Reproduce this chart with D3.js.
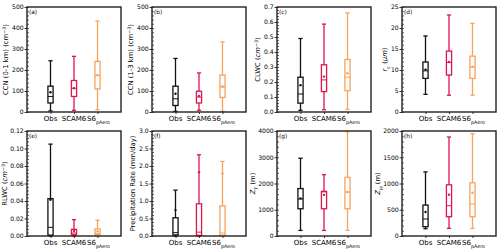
<!DOCTYPE html>
<html><head><meta charset="utf-8">
<script src="https://cdn.jsdelivr.net/npm/d3@7"></script>
<style>body{margin:0;background:#fff}svg{display:block}</style>
</head><body>
<svg id="c" width="500" height="249"></svg>
<script>
const categories = ["Obs", "SCAM6", "S6pAero"];
const colors = ["#111111", "#e0154e", "#f7a35c"];
// each: [lowWhisker, q1, median, q3, highWhisker, mean] for Obs, SCAM6, S6pAero
const ccnLow   = [[5,43,74,123,244,94],[8,74,113,150,265,113],[11,110,173,241,433,176]];
const ccnHigh  = [[3,31,63,123,255,87],[8,43,71,99,186,76],[3,69,118,176,334,123]];
const clwc     = [[0.011,0.059,0.12,0.232,0.49,0.179],[0.015,0.136,0.214,0.315,0.586,0.236],[0.017,0.142,0.232,0.35,0.66,0.258]];
const rc       = [[4.2,8.0,9.8,11.9,18.1,10.1],[4.0,8.8,11.8,14.5,23.1,11.9],[4.0,8.0,10.7,13.3,21.1,10.8]];
const rlwc     = [[0,0.001,0.0099,0.0427,0.105,0.0415],[0,0.0015,0.0034,0.0076,0.0187,0.0057],[0,0.0015,0.003,0.008,0.018,0.0053]];
const precip   = [[0,0.03,0.095,0.52,1.31,0.74],[0,0.02,0.11,0.92,2.32,1.82],[0,0.02,0.085,0.86,2.13,1.79]];
const zTop     = [[213,1037,1409,1807,2963,1435],[213,1037,1680,1701,2339,1568],[213,1037,1674,2233,3973,1674]];
const zHeight  = [[139,177,323,589,1221,456],[146,367,576,975,1886,785],[146,367,608,1013,1949,823]];
const yMax     = [500, 500, 0.7, 25, 0.12, 3.0, 4000, 2000];
const yStep    = [100, 100, 0.1, 5, 0.02, 0.5, 1000, 500];
const tickFmt  = ["d","d",".1f","d",".2f",".1f","d","d"];
const letters  = ["(a)","(b)","(c)","(d)","(e)","(f)","(g)","(h)"];
const panelData = [ccnLow, ccnHigh, clwc, rc, rlwc, precip, zTop, zHeight];

const svg = d3.select("#c");
const lefts = [27,152,277,402], tops = [7,131];
const W = 94, H = 105;
const font = "DejaVu Sans";

function yTitle(g, i, off){
  const t = g.append("text").attr("transform",`translate(${off},${H/2}) rotate(-90)`)
    .attr("text-anchor","middle").attr("font-family",font).attr("font-size",6.8).attr("fill","#000");
  const sup = (txt)=>t.append("tspan").attr("baseline-shift","super").attr("font-size",4.8).text(txt);
  const sub = (txt)=>t.append("tspan").attr("baseline-shift","sub").attr("font-size",4.8).text(txt);
  if(i===0){ t.append("tspan").text("CCN (0-1 km) (cm"); sup("−3"); t.append("tspan").text(")"); }
  if(i===1){ t.append("tspan").text("CCN (1-3 km) (cm"); sup("−3"); t.append("tspan").text(")"); }
  if(i===2){ t.append("tspan").text("CLWC ("); t.append("tspan").attr("font-style","italic").text("cm"); sup("−3"); t.append("tspan").text(")"); }
  if(i===3){ t.append("tspan").attr("font-style","italic").text("r"); sub("c"); t.append("tspan").text(" ("); t.append("tspan").attr("font-style","italic").text("μm"); t.append("tspan").text(")"); }
  if(i===4){ t.append("tspan").text("RLWC ("); t.append("tspan").attr("font-style","italic").text("cm"); sup("−3"); t.append("tspan").text(")"); }
  if(i===5){ t.append("tspan").text("Precipitation Rate (mm/day)"); }
  if(i===6){ t.append("tspan").attr("font-style","italic").text("Z"); sub("T"); t.append("tspan").text(" (m)"); }
  if(i===7){ t.append("tspan").attr("font-style","italic").text("Z"); sub("H"); t.append("tspan").text(" (m)"); }
}

panelData.forEach((data, i) => {
  const col = i % 4, row = Math.floor(i / 4);
  const g = svg.append("g").attr("transform", `translate(${lefts[col]},${tops[row]})`);
  const x = d3.scaleLinear().domain([0,4]).range([0,W]);
  const y = d3.scaleLinear().domain([0,yMax[i]]).range([H,0]);
  const n = Math.round(yMax[i]/yStep[i]);
  const ticks = d3.range(n+1).map(k => k*yStep[i]);
  const minor = d3.range(n*5+1).map(k => k*yStep[i]/5);
  g.append("g").call(d3.axisLeft(y).tickValues(minor).tickSize(-2).tickFormat(""))
    .call(a=>a.select(".domain").remove()).selectAll("line").attr("stroke","#000").attr("stroke-width",0.6);
  const ax = g.append("g").call(d3.axisLeft(y).tickValues(ticks).tickSize(2.5).tickPadding(0.8).tickFormat(d3.format(tickFmt[i])));
  ax.select(".domain").remove();
  ax.selectAll("line").attr("stroke","#000").attr("stroke-width",0.8);
  ax.selectAll("text").attr("font-family",font).attr("font-size",6.1).attr("fill","#000");
  let maxW = 0;
  ax.selectAll("text").each(function(){ maxW = Math.max(maxW, this.getComputedTextLength()); });
  const xa = g.append("g").attr("transform",`translate(0,${H})`)
    .call(d3.axisBottom(x).tickValues([1,2,3]).tickSize(2).tickPadding(2).tickFormat(""));
  xa.select(".domain").remove();
  xa.selectAll("line").attr("stroke","#000").attr("stroke-width",0.8);
  categories.forEach((c, k) => {
    const t = g.append("text").attr("x", x(k+1)).attr("y", H+9).attr("text-anchor","middle")
      .attr("font-family",font).attr("font-size",7).attr("fill","#000");
    if (c === "S6pAero") { t.attr("x", x(k+1)+1); t.append("tspan").text("S6"); t.append("tspan").attr("baseline-shift","sub").attr("font-size",4.8).text("pAero"); }
    else t.text(c);
  });
  const bw = 0.22, cw = 0.18;
  data.forEach((d, k) => {
    const [lo,q1,med,q3,hi,mn] = d;
    const cx = x(k+1), c = colors[k];
    const bg = g.append("g").attr("stroke", c).attr("fill","none").attr("stroke-width",1.3);
    bg.append("line").attr("x1",cx).attr("x2",cx).attr("y1",y(hi)).attr("y2",y(q3));
    bg.append("line").attr("x1",cx).attr("x2",cx).attr("y1",y(q1)).attr("y2",y(lo));
    bg.append("line").attr("x1",x(k+1-cw/2)).attr("x2",x(k+1+cw/2)).attr("y1",y(hi)).attr("y2",y(hi));
    bg.append("line").attr("x1",x(k+1-cw/2)).attr("x2",x(k+1+cw/2)).attr("y1",y(lo)).attr("y2",y(lo));
    bg.append("rect").attr("x",x(k+1-bw/2)).attr("width",x(bw)-x(0)).attr("y",y(q3)).attr("height",Math.max(0.5,y(q1)-y(q3)));
    bg.append("line").attr("x1",x(k+1-bw/2)).attr("x2",x(k+1+bw/2)).attr("y1",y(med)).attr("y2",y(med)).attr("stroke-width",1);
    g.append("circle").attr("cx",cx).attr("cy",y(mn)).attr("r",1.2).attr("fill",c);
  });
  g.append("rect").attr("x",0).attr("y",0).attr("width",W).attr("height",H)
    .attr("fill","none").attr("stroke","#222").attr("stroke-width",1.4);
  g.append("text").attr("x",2).attr("y",7).attr("font-family",font).attr("font-size",5.8).attr("fill","#000").text(letters[i]);
  const off = Math.max(-(maxW + 3.3 + 3.6), -(lefts[col] - 4.5));
  yTitle(g, i, off);
});
</script>
</body></html>
